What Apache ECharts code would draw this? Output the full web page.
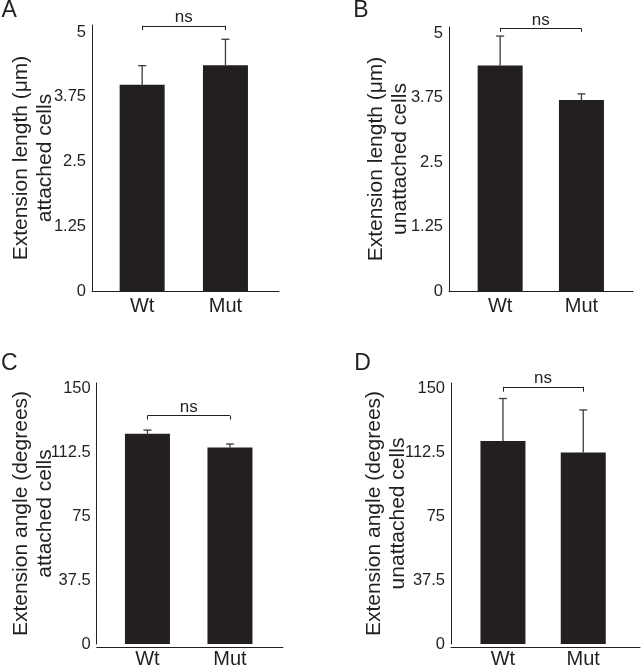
<!DOCTYPE html>
<html>
<head>
<meta charset="utf-8">
<script src="https://cdn.jsdelivr.net/npm/echarts@6/dist/echarts.min.js"></script>
<style>
html,body{margin:0;padding:0;background:#fff;}
#chart{width:641px;height:669px;}
</style>
</head>
<body>
<div id="chart"></div>
<script>
// ---- data ----
const categories = ['Wt', 'Mut'];
const lengthAttachedMean = [3.98, 4.36];
const lengthAttachedErr = [0.37, 0.50];
const lengthUnattachedMean = [4.37, 3.70];
const lengthUnattachedErr = [0.57, 0.12];
const angleAttachedMean = [123.7, 115.5];
const angleAttachedErr = [2.1, 2.1];
const angleUnattachedMean = [119.1, 112.4];
const angleUnattachedErr = [24.9, 24.9];
const lengthTickStep = 1.25;   // ticks 0, 1.25, 2.5, 3.75, 5
const angleTickStep = 37.5;    // ticks 0, 37.5, 75, 112.5, 150
const panelLetters = ['A', 'B', 'C', 'D'];
const yTitles = [
  'Extension length (\u03bcm)\nattached cells',
  'Extension length (\u03bcm)\nunattached cells',
  'Extension angle (degrees)\nattached cells',
  'Extension angle (degrees)\nunattached cells'
];
const sigLabels = ['ns', 'ns', 'ns', 'ns'];
const sigLevels = [5.12, 5.09, 134.3, 150.9];

// ---- layout / style ----
const FONT = "'Liberation Sans', Arial, Helvetica, sans-serif";
const INK = '#231f20';
const panels = [
  { mean: lengthAttachedMean, err: lengthAttachedErr, step: lengthTickStep, max: 5.135,
    bar: {left: 100.5, top: 25, width: 166.6, height: 266}, line: {left: 92, width: 187},
    offset: 8.5, nameGap: 35, drop: 0.083, letter: [9.2, 10.8] },
  { mean: lengthUnattachedMean, err: lengthUnattachedErr, step: lengthTickStep, max: 5.116,
    bar: {left: 459.5, top: 27, width: 162.6, height: 264}, line: {left: 449, width: 184},
    offset: 10.5, nameGap: 37, drop: 0.066, letter: [360.8, 10.8] },
  { mean: angleAttachedMean, err: angleAttachedErr, step: angleTickStep, max: 153.5,
    bar: {left: 106.2, top: 383, width: 165, height: 264}, line: {left: 96.7, width: 186.3},
    offset: 9.5, nameGap: 39, drop: 2.3, letter: [9.2, 363.3] },
  { mean: angleUnattachedMean, err: angleUnattachedErr, step: angleTickStep, max: 153.1,
    bar: {left: 462.8, top: 383, width: 160.6, height: 264.3}, line: {left: 451, width: 189},
    offset: 11.8, nameGap: 41, drop: 2.9, letter: [362.5, 363.3] }
];

const grid = [], xAxis = [], yAxis = [], series = [], graphics = [];

panels.forEach((p, i) => {
  const gBar = grid.length;
  grid.push({ left: p.bar.left, top: p.bar.top, width: p.bar.width, height: p.bar.height, containLabel: false });
  const gLine = grid.length;
  grid.push({ left: p.line.left, top: p.bar.top, width: p.line.width, height: p.bar.height, containLabel: false });

  const xBar = xAxis.length;
  xAxis.push({
    type: 'category', gridIndex: gBar, data: categories, boundaryGap: true,
    axisLine: { show: false }, axisTick: { show: false }, splitLine: { show: false },
    axisLabel: { fontSize: 20, color: INK, margin: 5, fontFamily: FONT }
  });
  const xLine = xAxis.length;
  xAxis.push({
    type: 'value', gridIndex: gLine, min: 0, max: 1,
    axisLine: { show: true, onZero: false, lineStyle: { color: INK, width: 1 } },
    axisTick: { show: false }, axisLabel: { show: false }, splitLine: { show: false }
  });

  const yBar = yAxis.length;
  yAxis.push({
    type: 'value', gridIndex: gBar, min: 0, max: p.max, interval: p.step, offset: p.offset,
    name: yTitles[i], nameLocation: 'middle', nameGap: p.nameGap, nameMoveOverlap: false,
    nameTextStyle: { fontSize: 21, lineHeight: 24, color: INK, fontFamily: FONT },
    axisLine: { show: true, lineStyle: { color: INK, width: 1 } },
    axisTick: { show: false }, splitLine: { show: false },
    axisLabel: { fontSize: 16.5, color: INK, margin: 6, fontFamily: FONT, showMaxLabel: false }
  });
  const yLine = yAxis.length;
  yAxis.push({ type: 'value', gridIndex: gLine, min: 0, max: 1, show: false });

  const h = sigLevels[i];
  series.push({
    type: 'bar', xAxisIndex: xBar, yAxisIndex: yBar, data: p.mean, barWidth: 45,
    itemStyle: { color: INK }, animation: false, silent: true,
    markLine: {
      silent: true, symbol: 'none', animation: false,
      lineStyle: { color: INK, width: 1, type: 'solid' },
      label: { show: false },
      data: [
        [{ coord: [categories[0], h],
           label: { show: true, position: 'middle', formatter: sigLabels[i], fontSize: 17,
                    color: INK, fontFamily: FONT, distance: 0 } },
         { coord: [categories[1], h] }],
        [{ coord: [categories[0], h] }, { coord: [categories[0], h - p.drop] }],
        [{ coord: [categories[1], h] }, { coord: [categories[1], h - p.drop] }]
      ]
    }
  });
  series.push({
    type: 'custom', xAxisIndex: xBar, yAxisIndex: yBar, animation: false, silent: true,
    data: p.mean.map((m, k) => [k, m, p.err[k]]),
    renderItem: function (params, api) {
      const x = api.value(0), m = api.value(1), e = api.value(2);
      const p0 = api.coord([x, m]);
      const p1 = api.coord([x, m + e]);
      const st = { stroke: '#3a3a3a', lineWidth: 1.3 };
      return { type: 'group', children: [
        { type: 'line', shape: { x1: p0[0], y1: p0[1], x2: p1[0], y2: p1[1] }, style: st },
        { type: 'line', shape: { x1: p1[0] - 4, y1: p1[1], x2: p1[0] + 4, y2: p1[1] }, style: st }
      ]};
    }
  });
  series.push({ type: 'line', xAxisIndex: xLine, yAxisIndex: yLine, data: [], silent: true });

  graphics.push({
    type: 'text', x: p.letter[0], y: p.letter[1],
    style: { text: panelLetters[i], font: '23px ' + FONT, fill: INK, textAlign: 'center', textVerticalAlign: 'middle' }
  });
});

const chart = echarts.init(document.getElementById('chart'), null, { renderer: 'canvas' });
chart.setOption({
  backgroundColor: '#ffffff',
  animation: false,
  textStyle: { fontFamily: FONT },
  grid: grid, xAxis: xAxis, yAxis: yAxis, series: series,
  graphic: graphics
});
</script>
</body>
</html>
